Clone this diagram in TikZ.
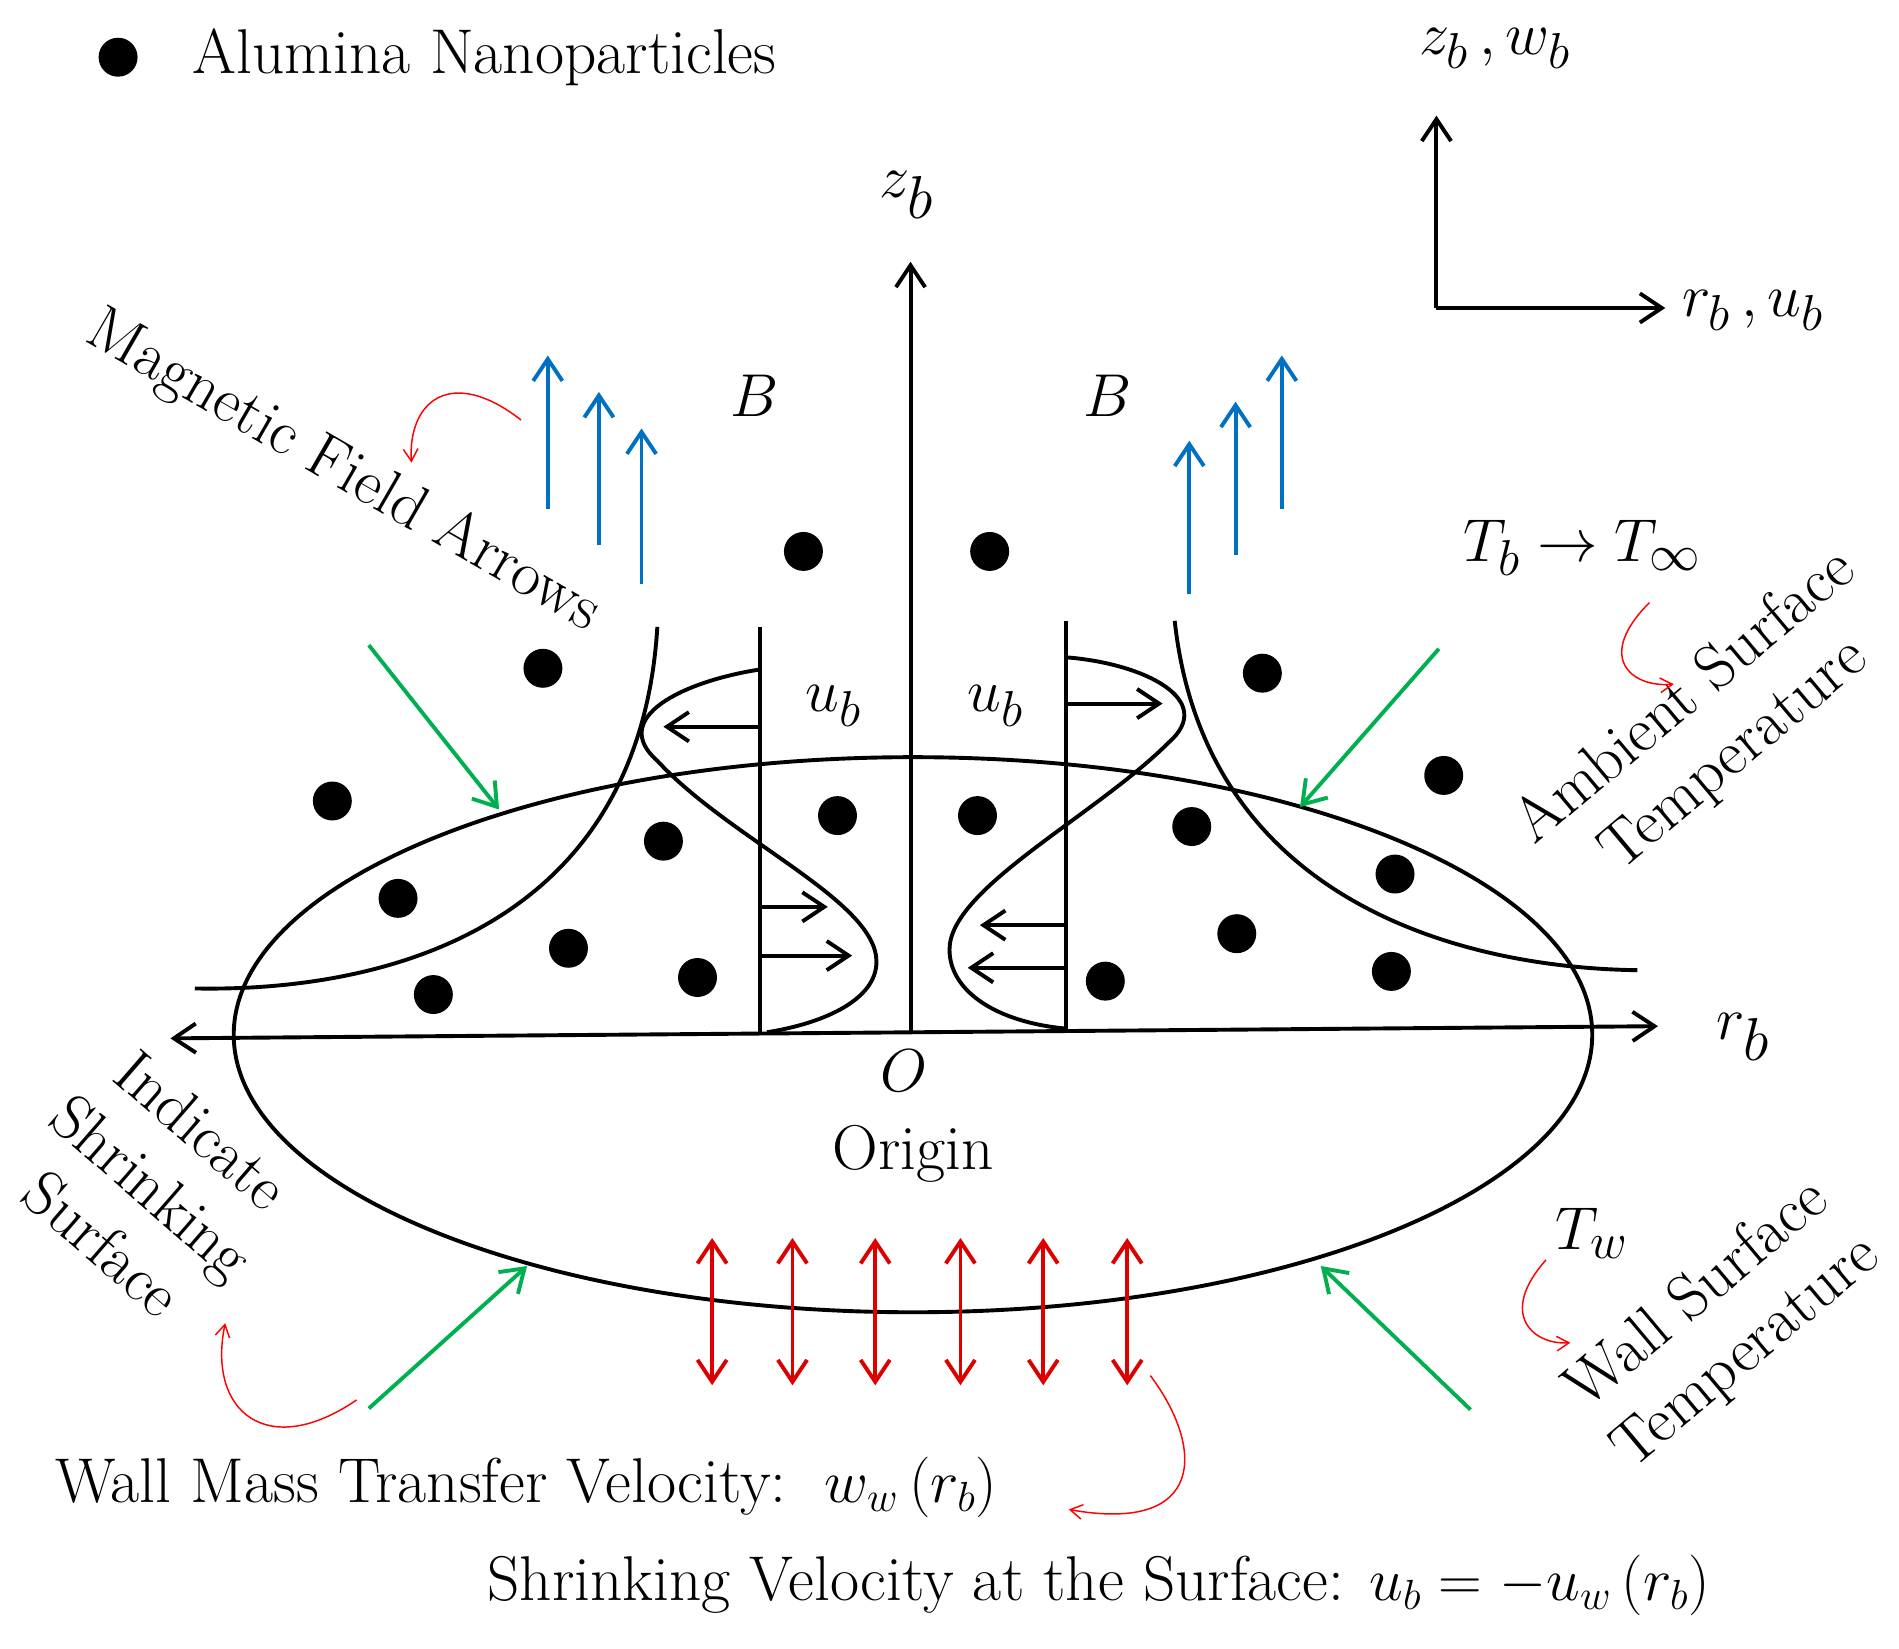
\documentclass[tikz,border=0pt]{standalone}
\usetikzlibrary{arrows.meta}
\begin{document}
\begin{tikzpicture}[x=0.5pt,y=-0.5pt,
  txt/.style={font=\fontsize{26}{31}\selectfont,inner sep=0pt},
  big/.style={font=\fontsize{38}{42}\selectfont,inner sep=0pt},
  mid/.style={font=\fontsize{30}{34}\selectfont,inner sep=0pt},
  ln/.style={line width=1.6pt},
  arr/.style={ln,-{Straight Barb[length=9pt,width=12pt]}},
  blue/.style={arr,draw={rgb,255:red,0;green,112;blue,192}},
  green/.style={arr,draw={rgb,255:red,0;green,176;blue,80}},
  red2/.style={ln,draw={rgb,255:red,220;green,0;blue,0},{Straight Barb[length=9pt,width=12pt]}-{Straight Barb[length=9pt,width=12pt]}},
  thin/.style={draw=red,line width=0.6pt,-{Straight Barb[length=5pt,width=6pt]}},
  dot/.style={circle,fill=black,inner sep=0pt,minimum size=16pt}]
\useasboundingbox (0,0) rectangle (1560,1354);
% legend
\node[dot] (leg) at (97,47) {};
\node[txt,anchor=west] (legt) at (158,47) {Alumina Nanoparticles};
% small axes
\coordinate (c0) at (1180,253);
\coordinate (cz) at (1180,95);
\coordinate (cr) at (1368,253);
\draw[arr] (c0) -- (cz);
\draw[arr] (c0) -- (cr);
\node[mid] (lz) at (1228,40) {$z_b\,,w_b$};
\node[mid] (lr) at (1440,255) {$r_b\,,u_b$};
% ellipse
\draw[ln] (750,850) ellipse [x radius=558, y radius=228];
% axes
\coordinate (zb) at (748,848);
\coordinate (zt) at (748,215);
\draw[arr] (zb) -- (zt);
\node[big] (zl) at (745,160) {$z_b$};
\coordinate (rl) at (140,853);
\coordinate (rr) at (1362,843);
\draw[ln,{Straight Barb[length=9pt,width=12pt]}-{Straight Barb[length=9pt,width=12pt]}] (rl) -- (rr);
\node[big] (rlab) at (1432,852) {$r_b$};
\node[mid] (O) at (743,880) {$O$};
\node[txt] (orig) at (750,948) {Origin};
% velocity profiles
\draw[ln] (624,515) -- (624,848);
\draw[ln] (876,510) -- (876,845);
\draw[ln] (624,550) .. controls (560,560) and (500,590) .. (540,625)
  .. controls (600,690) and (720,740) .. (720,790) .. controls (720,820) and (680,840) .. (630,848);
\draw[ln] (876,540) .. controls (940,545) and (1000,575) .. (960,610)
  .. controls (900,670) and (780,730) .. (780,780) .. controls (780,815) and (820,840) .. (876,845);
\draw[arr] (624,597) -- (545,597);
\draw[arr] (624,745) -- (680,745);
\draw[arr] (624,785) -- (700,785);
\draw[arr] (876,578) -- (955,578);
\draw[arr] (876,760) -- (805,760);
\draw[arr] (876,795) -- (795,795);
\node[mid] (ul) at (685,580) {$u_b$};
\node[mid] (ur) at (818,580) {$u_b$};
% boundary layer
\draw[ln] (540,515) .. controls (525,760) and (320,815) .. (160,812);
\draw[ln] (965,510) .. controls (990,740) and (1200,795) .. (1345,797);
% B
\node[big] (B1) at (620,325) {$B$};
\node[big] (B2) at (910,325) {$B$};
\draw[blue] (450,418) -- (450,292);
\draw[blue] (492,448) -- (492,322);
\draw[blue] (527,480) -- (527,352);
\draw[blue] (977,488) -- (977,362);
\draw[blue] (1015,456) -- (1015,330);
\draw[blue] (1053,418) -- (1053,292);
% dots
\foreach \p [count=\i] in {(660,453),(813,453),(446,549),(273,658),(545,691),(688,670),(803,670),(327,738),(467,779),(356,817),(573,803),(1037,553),(1186,637),(979,679),(1146,718),(1016,767),(1143,798),(908,806)}
  \node[dot] (d\i) at \p {};
% green arrows
\draw[green] (303,530) -- (410,665);
\draw[green] (1182,533) -- (1068,663);
\draw[green] (303,1157) -- (433,1040);
\draw[green] (1208,1158) -- (1085,1040);
% red double arrows
\foreach \x in {585,651,719,789,857,926}
  \draw[red2] (\x,1017) -- (\x,1138);
% labels
\node[txt,rotate=-30] (mag) at (282,388) {Magnetic Field Arrows};
\draw[thin] (428,345) .. controls (370,300) and (335,330) .. (338,380);
\node[mid] (Tb) at (1300,450) {$T_b \rightarrow T_\infty$};
\node[txt,rotate=40,align=center] (amb) at (1405,597) {Ambient Surface\\Temperature};
\draw[thin] (1355,495) .. controls (1310,540) and (1340,565) .. (1375,562);
\node[mid] (Tw) at (1308,1013) {$T_w$};
\node[txt,rotate=40,align=center] (wall) at (1415,1088) {Wall Surface\\Temperature};
\draw[thin] (1270,1035) .. controls (1230,1080) and (1260,1105) .. (1290,1103);
\node[txt,rotate=-41,align=center] (ind) at (125,975) {Indicate\\Shrinking\\Surface};
\draw[thin] (293,1150) .. controls (220,1200) and (170,1160) .. (185,1087);
\node[txt,anchor=west] (wm) at (45,1222) {Wall Mass Transfer Velocity:\ \ $w_w\left(r_b\right)$};
\draw[thin] (945,1130) .. controls (990,1190) and (990,1260) .. (878,1240);
\node[txt,anchor=west] (sv) at (400,1302) {Shrinking Velocity at the Surface: $u_b=-u_w\left(r_b\right)$};
\end{tikzpicture}
\end{document}
